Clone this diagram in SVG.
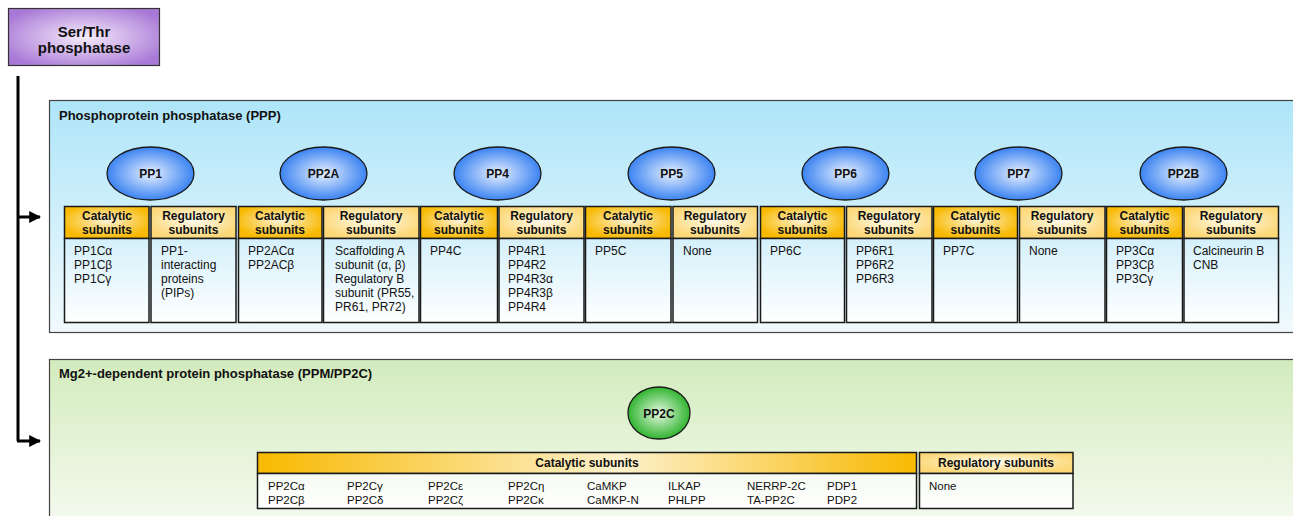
<svg xmlns="http://www.w3.org/2000/svg" width="1293" height="516" viewBox="0 0 1293 516">
<defs>
<radialGradient id="gPurple" cx="0.5" cy="0.5" r="0.6"><stop offset="0" stop-color="#f6ecfb"/><stop offset="1" stop-color="#a878d6"/></radialGradient>
<linearGradient id="gBlue" x1="0" y1="0" x2="0" y2="1"><stop offset="0" stop-color="#aee5f9"/><stop offset="1" stop-color="#f1fafd"/></linearGradient>
<linearGradient id="gGreen" x1="0" y1="0" x2="0" y2="1"><stop offset="0" stop-color="#d3ebbd"/><stop offset="1" stop-color="#f6fbf1"/></linearGradient>
<radialGradient id="gCat" cx="0.5" cy="0.45" r="0.55"><stop offset="0" stop-color="#fdf3d8"/><stop offset="1" stop-color="#f8b900"/></radialGradient>
<radialGradient id="gReg" cx="0.5" cy="0.45" r="0.55"><stop offset="0" stop-color="#fffbee"/><stop offset="1" stop-color="#fcd878"/></radialGradient>
<linearGradient id="gBody" x1="0" y1="0" x2="0" y2="1"><stop offset="0" stop-color="#d4f0fb"/><stop offset="1" stop-color="#ffffff"/></linearGradient>
<linearGradient id="gBody2" x1="0" y1="0" x2="0" y2="1"><stop offset="0" stop-color="#f6fbf2"/><stop offset="1" stop-color="#ffffff"/></linearGradient>
<linearGradient id="gCatWide2" x1="0" y1="0" x2="1" y2="0"><stop offset="0" stop-color="#f8b900"/><stop offset="0.55" stop-color="#fdf1cc"/><stop offset="1" stop-color="#f8b900"/></linearGradient>
<radialGradient id="gEllB" cx="0.5" cy="0.5" r="0.55"><stop offset="0" stop-color="#e8f1ff"/><stop offset="1" stop-color="#2a78f0"/></radialGradient>
<radialGradient id="gEllG" cx="0.5" cy="0.5" r="0.55"><stop offset="0" stop-color="#e6f8e0"/><stop offset="1" stop-color="#1fae1f"/></radialGradient>
<marker id="arr" viewBox="0 0 10 10" refX="9" refY="5" markerWidth="4" markerHeight="4" markerUnits="strokeWidth" orient="auto"><path d="M0,0 L10,5 L0,10 z" fill="#000"/></marker>
</defs>
<style>
text{font-family:"Liberation Sans",Arial,sans-serif;fill:#111}
.b{font-weight:bold}
.h{font-weight:bold;font-size:12px;text-anchor:middle}
.t{font-size:12px}
.s{font-size:11.5px}
.cat{fill:url(#gCat);stroke:#1a1a1a;stroke-width:1.5}
.reg{fill:url(#gReg);stroke:#1a1a1a;stroke-width:1.5}
.body{fill:url(#gBody);stroke:#1a1a1a;stroke-width:1.5}
.ell{fill:url(#gEllB);stroke:#1a1a1a;stroke-width:1.3}
.el{font-weight:bold;font-size:12px;text-anchor:middle}
</style>

<g id="root">
<rect x="8.5" y="8.5" width="151" height="57" fill="url(#gPurple)" stroke="#333" stroke-width="1.2"/>
<text class="b" x="84" y="37" font-size="15" text-anchor="middle">Ser/Thr</text>
<text class="b" x="84" y="53" font-size="15" text-anchor="middle">phosphatase</text>
</g>

<g id="connectors" stroke="#000" stroke-width="3" fill="none">
<path d="M18,76 V441"/>
<path d="M17,217 H40" marker-end="url(#arr)"/>
<path d="M17,441 H40" marker-end="url(#arr)"/>
</g>

<g id="ppp">
<rect x="49.5" y="100.5" width="1250" height="232" fill="url(#gBlue)" stroke="#444" stroke-width="1.2"/>
<text class="b" x="59" y="120" font-size="13">Phosphoprotein phosphatase (PPP)</text>
</g>

<g id="pp1">
<ellipse class="ell" cx="150.5" cy="173.5" rx="43.5" ry="26.5"/><text class="el" x="150.5" y="178">PP1</text>
<rect class="cat" x="64.5" y="206.5" width="84.5" height="32"/><text class="h" x="107" y="220">Catalytic</text><text class="h" x="107" y="234">subunits</text>
<rect class="body" x="64.5" y="238.5" width="84.5" height="84"/>
<text class="t" x="74" y="255">PP1Cα</text><text class="t" x="74" y="269">PP1Cβ</text><text class="t" x="74" y="283">PP1Cγ</text>
<rect class="reg" x="151" y="206.5" width="85" height="32"/><text class="h" x="193.5" y="220">Regulatory</text><text class="h" x="193.5" y="234">subunits</text>
<rect class="body" x="151" y="238.5" width="85" height="84"/>
<text class="t" x="161" y="255">PP1-</text><text class="t" x="161" y="269">interacting</text><text class="t" x="161" y="283">proteins</text><text class="t" x="161" y="297">(PIPs)</text>
</g>

<g id="pp2a">
<ellipse class="ell" cx="323.5" cy="173.5" rx="43.5" ry="26.5"/><text class="el" x="323.5" y="178">PP2A</text>
<rect class="cat" x="238.5" y="206.5" width="83.5" height="32"/><text class="h" x="280" y="220">Catalytic</text><text class="h" x="280" y="234">subunits</text>
<rect class="body" x="238.5" y="238.5" width="83.5" height="84"/>
<text class="t" x="248" y="255">PP2ACα</text><text class="t" x="248" y="269">PP2ACβ</text>
<rect class="reg" x="323.5" y="206.5" width="95.5" height="32"/><text class="h" x="371" y="220">Regulatory</text><text class="h" x="371" y="234">subunits</text>
<rect class="body" x="323.5" y="238.5" width="95.5" height="84"/>
<text class="t" x="335" y="255">Scaffolding A</text><text class="t" x="335" y="269">subunit (α, β)</text><text class="t" x="335" y="283">Regulatory B</text><text class="t" x="335" y="297">subunit (PR55,</text><text class="t" x="335" y="311">PR61, PR72)</text>
</g>

<g id="pp4">
<ellipse class="ell" cx="497.5" cy="173.5" rx="43.5" ry="26.5"/><text class="el" x="497.5" y="178">PP4</text>
<rect class="cat" x="420.5" y="206.5" width="77" height="32"/><text class="h" x="459" y="220">Catalytic</text><text class="h" x="459" y="234">subunits</text>
<rect class="body" x="420.5" y="238.5" width="77" height="84"/>
<text class="t" x="430" y="255">PP4C</text>
<rect class="reg" x="499" y="206.5" width="85" height="32"/><text class="h" x="541.5" y="220">Regulatory</text><text class="h" x="541.5" y="234">subunits</text>
<rect class="body" x="499" y="238.5" width="85" height="84"/>
<text class="t" x="508" y="255">PP4R1</text><text class="t" x="508" y="269">PP4R2</text><text class="t" x="508" y="283">PP4R3α</text><text class="t" x="508" y="297">PP4R3β</text><text class="t" x="508" y="311">PP4R4</text>
</g>

<g id="pp5">
<ellipse class="ell" cx="671.5" cy="173.5" rx="43.5" ry="26.5"/><text class="el" x="671.5" y="178">PP5</text>
<rect class="cat" x="585.5" y="206.5" width="85.5" height="32"/><text class="h" x="628" y="220">Catalytic</text><text class="h" x="628" y="234">subunits</text>
<rect class="body" x="585.5" y="238.5" width="85.5" height="84"/>
<text class="t" x="595" y="255">PP5C</text>
<rect class="reg" x="673" y="206.5" width="84.5" height="32"/><text class="h" x="715" y="220">Regulatory</text><text class="h" x="715" y="234">subunits</text>
<rect class="body" x="673" y="238.5" width="84.5" height="84"/>
<text class="t" x="683" y="255">None</text>
</g>

<g id="pp6">
<ellipse class="ell" cx="845.5" cy="173.5" rx="43.5" ry="26.5"/><text class="el" x="845.5" y="178">PP6</text>
<rect class="cat" x="760.5" y="206.5" width="84" height="32"/><text class="h" x="802.5" y="220">Catalytic</text><text class="h" x="802.5" y="234">subunits</text>
<rect class="body" x="760.5" y="238.5" width="84" height="84"/>
<text class="t" x="770" y="255">PP6C</text>
<rect class="reg" x="846.5" y="206.5" width="85.5" height="32"/><text class="h" x="889" y="220">Regulatory</text><text class="h" x="889" y="234">subunits</text>
<rect class="body" x="846.5" y="238.5" width="85.5" height="84"/>
<text class="t" x="856" y="255">PP6R1</text><text class="t" x="856" y="269">PP6R2</text><text class="t" x="856" y="283">PP6R3</text>
</g>

<g id="pp7">
<ellipse class="ell" cx="1018.5" cy="173.5" rx="43.5" ry="26.5"/><text class="el" x="1018.5" y="178">PP7</text>
<rect class="cat" x="933.5" y="206.5" width="84" height="32"/><text class="h" x="975.5" y="220">Catalytic</text><text class="h" x="975.5" y="234">subunits</text>
<rect class="body" x="933.5" y="238.5" width="84" height="84"/>
<text class="t" x="943" y="255">PP7C</text>
<rect class="reg" x="1019.5" y="206.5" width="85.5" height="32"/><text class="h" x="1062" y="220">Regulatory</text><text class="h" x="1062" y="234">subunits</text>
<rect class="body" x="1019.5" y="238.5" width="85.5" height="84"/>
<text class="t" x="1029" y="255">None</text>
</g>

<g id="pp2b">
<ellipse class="ell" cx="1183.5" cy="173.5" rx="43.5" ry="26.5"/><text class="el" x="1183.5" y="178">PP2B</text>
<rect class="cat" x="1106.5" y="206.5" width="76" height="32"/><text class="h" x="1144.5" y="220">Catalytic</text><text class="h" x="1144.5" y="234">subunits</text>
<rect class="body" x="1106.5" y="238.5" width="76" height="84"/>
<text class="t" x="1116" y="255">PP3Cα</text><text class="t" x="1116" y="269">PP3Cβ</text><text class="t" x="1116" y="283">PP3Cγ</text>
<rect class="reg" x="1184" y="206.5" width="94.5" height="32"/><text class="h" x="1231" y="220">Regulatory</text><text class="h" x="1231" y="234">subunits</text>
<rect class="body" x="1184" y="238.5" width="94.5" height="84"/>
<text class="t" x="1193" y="255">Calcineurin B</text><text class="t" x="1193" y="269">CNB</text>
</g>

<g id="ppm">
<rect x="49.5" y="359.5" width="1250" height="170" fill="url(#gGreen)" stroke="#444" stroke-width="1.2"/>
<text class="b" x="59" y="378" font-size="13">Mg2+-dependent protein phosphatase (PPM/PP2C)</text>
</g>

<g id="pp2c">
<ellipse cx="659" cy="413" rx="31" ry="26" fill="url(#gEllG)" stroke="#1a1a1a" stroke-width="1.3"/>
<text class="el" x="659" y="417.5">PP2C</text>
<rect x="257.5" y="452.5" width="659" height="21" fill="url(#gCatWide2)" stroke="#1a1a1a" stroke-width="1.5"/>
<text class="h" x="587" y="467">Catalytic subunits</text>
<rect x="257.5" y="473.5" width="659" height="35" fill="url(#gBody2)" stroke="#1a1a1a" stroke-width="1.5"/>
<text class="s" x="268" y="490">PP2Cα</text><text class="s" x="268" y="504">PP2Cβ</text>
<text class="s" x="347" y="490">PP2Cγ</text><text class="s" x="347" y="504">PP2Cδ</text>
<text class="s" x="428" y="490">PP2Cε</text><text class="s" x="428" y="504">PP2Cζ</text>
<text class="s" x="508" y="490">PP2Cη</text><text class="s" x="508" y="504">PP2Cκ</text>
<text class="s" x="587" y="490">CaMKP</text><text class="s" x="587" y="504">CaMKP-N</text>
<text class="s" x="668" y="490">ILKAP</text><text class="s" x="668" y="504">PHLPP</text>
<text class="s" x="747" y="490">NERRP-2C</text><text class="s" x="747" y="504">TA-PP2C</text>
<text class="s" x="827" y="490">PDP1</text><text class="s" x="827" y="504">PDP2</text>
<rect x="919.5" y="452.5" width="153.5" height="21" fill="url(#gReg)" stroke="#1a1a1a" stroke-width="1.5"/>
<text class="h" x="996" y="467">Regulatory subunits</text>
<rect x="919.5" y="473.5" width="153.5" height="35" fill="url(#gBody2)" stroke="#1a1a1a" stroke-width="1.5"/>
<text class="s" x="929" y="490">None</text>
</g>
</svg>
